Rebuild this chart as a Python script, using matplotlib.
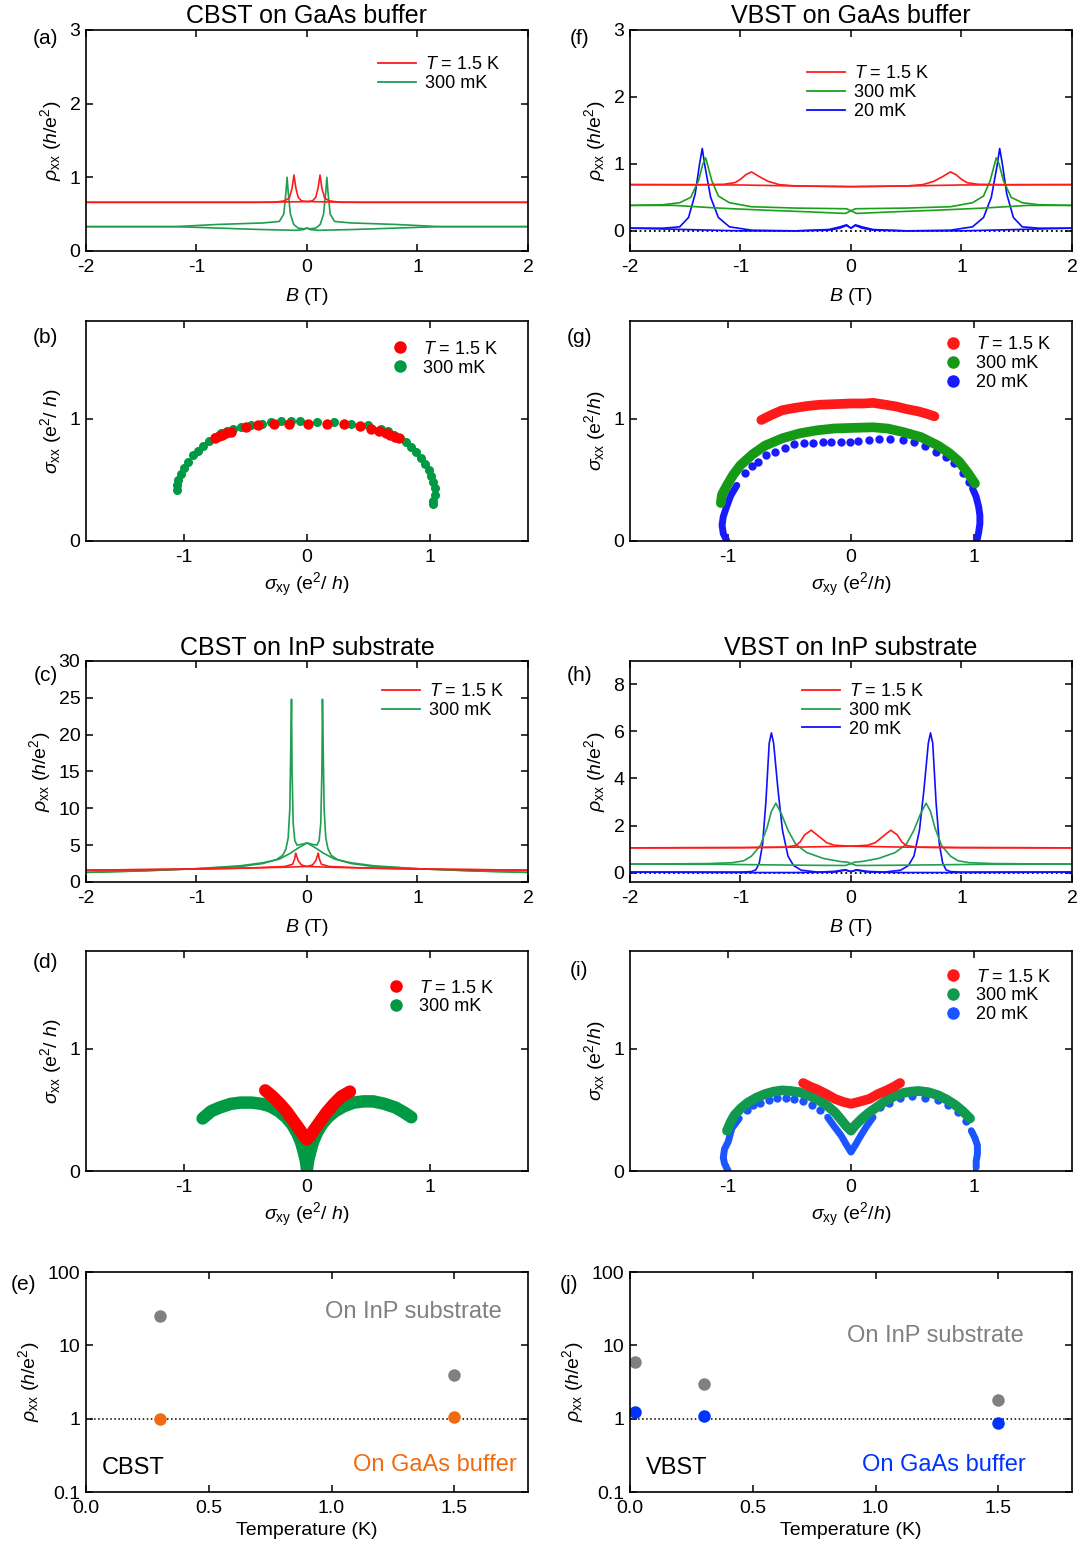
import matplotlib
matplotlib.use('Agg')
import matplotlib.pyplot as plt
from matplotlib.lines import Line2D

plt.rcParams['font.family'] = ['Liberation Sans', 'DejaVu Sans']
plt.rcParams['mathtext.fontset'] = 'custom'
plt.rcParams['mathtext.rm'] = 'Liberation Sans'
plt.rcParams['mathtext.it'] = 'Liberation Sans:italic'
plt.rcParams['axes.unicode_minus'] = False
plt.rcParams['axes.linewidth'] = 1.2

# ---------------- data ----------------
# rho_xx sweeps: only the up-sweep branch is listed, the down-sweep is the same curve at -B

# (a) CBST on GaAs buffer
a_red_B = [-2.0, -1.0, -0.5, -0.2, 0.0, 0.05, 0.08, 0.10, 0.118, 0.135, 0.16, 0.2, 0.3, 1.0, 2.0]
a_red_rho = [0.66, 0.66, 0.66, 0.665, 0.67, 0.68, 0.73, 0.85, 1.03, 0.85, 0.72, 0.68, 0.66, 0.66, 0.66]
a_grn_B = [-2.0, -1.2, -0.8, -0.4, -0.1, -0.03, 0.0, 0.03, 0.08, 0.12, 0.15, 0.17, 0.18, 0.19, 0.21,
           0.25, 0.4, 0.8, 1.2, 2.0]
a_grn_rho = [0.33, 0.33, 0.31, 0.29, 0.28, 0.29, 0.31, 0.30, 0.31, 0.36, 0.5, 0.8, 1.0, 0.8, 0.5,
             0.40, 0.38, 0.36, 0.33, 0.33]

# (c) CBST on InP substrate
c_red_B = [-2.0, -1.0, -0.5, -0.2, 0.0, 0.05, 0.08, 0.095, 0.103, 0.11, 0.13, 0.2, 0.5, 1.0, 2.0]
c_red_rho = [1.6, 1.75, 1.9, 2.0, 2.1, 2.3, 2.9, 3.6, 3.9, 3.2, 2.4, 2.1, 1.9, 1.75, 1.6]
c_grn_B = [-2.0, -1.5, -1.0, -0.6, -0.4, -0.25, -0.15, -0.08, 0.0, 0.05, 0.09, 0.11, 0.125, 0.135,
           0.14, 0.145, 0.155, 0.17, 0.19, 0.22, 0.28, 0.4, 0.6, 1.0, 1.5, 2.0]
c_grn_rho = [1.3, 1.5, 1.8, 2.2, 2.6, 3.1, 3.9, 4.6, 5.3, 5.1, 5.0, 5.6, 8.0, 15.0,
             24.8, 20.0, 10.0, 6.0, 4.5, 3.6, 3.0, 2.5, 2.1, 1.8, 1.5, 1.3]

# (f) VBST on GaAs buffer
f_red_B = [-2.0, -1.0, -0.5, 0.0, 0.5, 0.65, 0.75, 0.83, 0.9, 0.95, 1.0, 1.05, 1.15, 1.4, 2.0]
f_red_rho = [0.69, 0.685, 0.67, 0.66, 0.67, 0.69, 0.74, 0.81, 0.88, 0.84, 0.77, 0.72, 0.695, 0.69, 0.69]
f_grn_B = [-2.0, -1.6, -1.2, -0.8, -0.4, -0.05, 0.0, 0.04, 0.5, 0.9, 1.1, 1.2, 1.26, 1.3, 1.315,
           1.34, 1.38, 1.45, 1.55, 1.7, 2.0]
f_grn_rho = [0.38, 0.38, 0.34, 0.31, 0.285, 0.26, 0.30, 0.33, 0.34, 0.36, 0.42, 0.52, 0.75, 1.0, 1.09,
             1.0, 0.75, 0.5, 0.42, 0.39, 0.38]
f_blu_B = [-2.0, -1.5, -1.0, -0.5, -0.2, -0.1, -0.04, 0.0, 0.04, 0.1, 0.2, 0.5, 0.9, 1.1, 1.2, 1.27,
           1.32, 1.346, 1.37, 1.41, 1.47, 1.55, 1.7, 2.0]
f_blu_rho = [0.04, 0.02, 0.0, 0.0, 0.01, 0.04, 0.08, 0.04, 0.09, 0.06, 0.02, 0.0, 0.01, 0.06, 0.2, 0.5,
             0.95, 1.23, 1.0, 0.55, 0.2, 0.06, 0.04, 0.04]

# (h) VBST on InP substrate
h_red_B = [-2.0, -1.0, -0.5, 0.0, 0.15, 0.22, 0.28, 0.36, 0.42, 0.46, 0.5, 0.6, 1.0, 2.0]
h_red_rho = [1.05, 1.06, 1.08, 1.12, 1.16, 1.27, 1.5, 1.8, 1.6, 1.3, 1.15, 1.08, 1.06, 1.05]
h_grn_B = [-2.0, -1.2, -0.8, -0.4, -0.05, 0.0, 0.03, 0.1, 0.25, 0.4, 0.5, 0.57, 0.63, 0.68, 0.72,
           0.76, 0.82, 0.9, 0.97, 1.07, 1.3, 2.0]
h_grn_rho = [0.36, 0.35, 0.33, 0.31, 0.30, 0.38, 0.44, 0.47, 0.6, 0.85, 1.2, 1.8, 2.5, 2.95, 2.6,
             1.9, 1.15, 0.7, 0.5, 0.42, 0.38, 0.36]
h_blu_B = [-2.0, -1.0, -0.5, -0.15, -0.05, 0.0, 0.05, 0.15, 0.3, 0.45, 0.52, 0.57, 0.62, 0.66, 0.7,
           0.72, 0.74, 0.77, 0.8, 0.83, 0.86, 0.9, 1.0, 2.0]
h_blu_rho = [0.02, 0.0, 0.0, 0.02, 0.1, 0.04, 0.12, 0.05, 0.02, 0.1, 0.3, 0.7, 1.8, 3.5, 5.5,
             5.94, 5.5, 3.0, 1.2, 0.4, 0.12, 0.04, 0.02, 0.02]

# (b) sigma_xx vs sigma_xy, CBST on GaAs
b_red_x = [-0.75, -0.72, -0.69, -0.66, -0.62, -0.5, -0.40, -0.27, -0.15, 0.01, 0.16, 0.30, 0.43,
           0.52, 0.59, 0.64, 0.68, 0.72, 0.75]
b_red_y = [0.84, 0.855, 0.87, 0.88, 0.895, 0.935, 0.95, 0.955, 0.96, 0.955, 0.955, 0.955, 0.94,
           0.92, 0.90, 0.885, 0.87, 0.85, 0.84]
b_grn_x = [-1.06, -1.06, -1.05, -1.03, -1.0, -0.97, -0.93, -0.89, -0.85, -0.80, -0.75, -0.70, -0.65,
           -0.60, -0.54, -0.46, -0.37, -0.29, -0.21, -0.13, -0.06, 0.08, 0.22, 0.36, 0.50, 0.60,
           0.66, 0.71, 0.76, 0.81, 0.85, 0.89, 0.93, 0.96, 0.99, 1.01, 1.03, 1.04, 1.04, 1.03, 1.03]
b_grn_y = [0.42, 0.46, 0.50, 0.55, 0.60, 0.65, 0.70, 0.74, 0.78, 0.82, 0.85, 0.88, 0.90,
           0.92, 0.93, 0.95, 0.96, 0.97, 0.98, 0.98, 0.98, 0.97, 0.97, 0.96, 0.95, 0.92,
           0.90, 0.87, 0.84, 0.81, 0.77, 0.73, 0.68, 0.63, 0.58, 0.53, 0.48, 0.43, 0.38, 0.33, 0.30]

# (d) sigma_xx vs sigma_xy, CBST on InP
d_red_x = [-0.34, -0.28, -0.22, -0.16, -0.11, -0.06, -0.02, 0.0, 0.02, 0.06, 0.11, 0.16, 0.22, 0.28, 0.35]
d_red_y = [0.66, 0.61, 0.55, 0.48, 0.41, 0.34, 0.28, 0.26, 0.28, 0.34, 0.41, 0.48, 0.55, 0.61, 0.65]
d_grn_left_x = [-0.85, -0.78, -0.71, -0.62, -0.54, -0.45, -0.37, -0.30, -0.23, -0.17, -0.12, -0.08,
                -0.05, -0.03, -0.01, 0.0]
d_grn_left_y = [0.43, 0.49, 0.52, 0.55, 0.56, 0.56, 0.55, 0.53, 0.49, 0.44, 0.38, 0.31,
                0.24, 0.17, 0.09, 0.02]
d_grn_right_x = [0.0, 0.01, 0.03, 0.05, 0.08, 0.12, 0.17, 0.23, 0.30, 0.38, 0.46, 0.54, 0.63, 0.72,
                 0.79, 0.85]
d_grn_right_y = [0.02, 0.09, 0.17, 0.24, 0.31, 0.38, 0.44, 0.49, 0.53, 0.56, 0.57, 0.57, 0.55, 0.52,
                 0.48, 0.44]

# (g) sigma_xx vs sigma_xy, VBST on GaAs
g_red_x = [-0.73, -0.65, -0.56, -0.45, -0.35, -0.25, -0.12, 0.0, 0.1, 0.18, 0.28, 0.37, 0.45, 0.55, 0.62, 0.68]
g_red_y = [0.99, 1.03, 1.07, 1.09, 1.105, 1.115, 1.12, 1.125, 1.125, 1.13, 1.115, 1.10, 1.08, 1.06, 1.04, 1.02]
g_grn_x = [-1.06, -1.05, -1.01, -0.96, -0.90, -0.80, -0.70, -0.56, -0.42, -0.28, -0.14, 0.0, 0.18,
           0.30, 0.43, 0.57, 0.71, 0.80, 0.88, 0.95, 1.01]
g_grn_y = [0.31, 0.38, 0.455, 0.54, 0.62, 0.71, 0.78, 0.84, 0.88, 0.905, 0.92, 0.925, 0.93,
           0.92, 0.89, 0.85, 0.78, 0.72, 0.65, 0.56, 0.47]
g_blu_end1_x = [-1.01, -1.04, -1.05, -1.04, -1.02, -0.98, -0.93]
g_blu_end1_y = [0.0, 0.06, 0.13, 0.2, 0.26, 0.37, 0.455]
g_blu_dot_x = [-0.86, -0.81, -0.76, -0.69, -0.62, -0.54, -0.46, -0.38, -0.31, -0.23, -0.16, -0.08, -0.01,
               0.06, 0.15, 0.23, 0.32, 0.42, 0.51, 0.60, 0.69, 0.77, 0.84, 0.91, 0.96]
g_blu_dot_y = [0.56, 0.61, 0.65, 0.70, 0.73, 0.76, 0.79, 0.80, 0.80, 0.81, 0.81, 0.81, 0.81,
               0.815, 0.825, 0.835, 0.835, 0.83, 0.81, 0.78, 0.73, 0.69, 0.64, 0.56, 0.48]
g_blu_end2_x = [0.99, 1.02, 1.04, 1.05, 1.05, 1.04, 1.03]
g_blu_end2_y = [0.43, 0.36, 0.28, 0.21, 0.14, 0.07, 0.02]

# (i) sigma_xx vs sigma_xy, VBST on InP
i_red_x = [-0.39, -0.33, -0.28, -0.2, -0.13, -0.06, 0.0, 0.06, 0.15, 0.22, 0.29, 0.35, 0.40]
i_red_y = [0.72, 0.69, 0.67, 0.63, 0.59, 0.565, 0.55, 0.565, 0.59, 0.63, 0.66, 0.69, 0.72]
i_grn_x = [-1.01, -0.98, -0.95, -0.9, -0.84, -0.77, -0.70, -0.63, -0.56, -0.49, -0.42, -0.35, -0.28,
           -0.2, -0.13, -0.08, -0.04, 0.0, 0.04, 0.09, 0.15, 0.22, 0.29, 0.36, 0.43, 0.49, 0.55,
           0.63, 0.71, 0.78, 0.85, 0.91, 0.97]
i_grn_y = [0.33, 0.40, 0.455, 0.51, 0.56, 0.60, 0.63, 0.65, 0.66, 0.655, 0.645, 0.62, 0.59,
           0.54, 0.48, 0.42, 0.37, 0.33, 0.38, 0.43, 0.48, 0.53, 0.58, 0.615, 0.64, 0.65, 0.655,
           0.645, 0.62, 0.585, 0.54, 0.49, 0.43]
i_blu_end1_x = [-1.0, -1.03, -1.04, -1.03, -1.0, -0.97, -0.94, -0.91]
i_blu_end1_y = [0.0, 0.06, 0.11, 0.18, 0.24, 0.35, 0.39, 0.43]
i_blu_dot1_x = [-0.85, -0.80, -0.74, -0.67, -0.60, -0.53, -0.46, -0.39, -0.32, -0.25]
i_blu_dot1_y = [0.50, 0.54, 0.56, 0.585, 0.595, 0.60, 0.59, 0.57, 0.54, 0.50]
i_blu_mid_x = [-0.19, -0.14, -0.08, -0.04, 0.0, 0.04, 0.08, 0.13, 0.18]
i_blu_mid_y = [0.44, 0.37, 0.29, 0.22, 0.155, 0.22, 0.29, 0.37, 0.44]
i_blu_dot2_x = [0.24, 0.31, 0.40, 0.50, 0.60, 0.71, 0.79, 0.87, 0.94]
i_blu_dot2_y = [0.52, 0.56, 0.595, 0.61, 0.60, 0.58, 0.54, 0.48, 0.41]
i_blu_end2_x = [0.98, 1.01, 1.03, 1.03, 1.02, 1.02]
i_blu_end2_y = [0.33, 0.27, 0.21, 0.14, 0.08, 0.03]

# (e), (j) peak rho_xx vs temperature
e_T = [0.3, 1.5]
e_inp = [25.0, 4.0]
e_gaas = [1.0, 1.05]
j_T = [0.02, 0.3, 1.5]
j_inp = [6.0, 3.0, 1.8]
j_gaas = [1.25, 1.1, 0.88]

leg2 = [r'$T$ = 1.5 K', '300 mK']
leg3 = [r'$T$ = 1.5 K', '300 mK', '20 mK']

# ---------------- figure ----------------
fig = plt.figure(figsize=(10.83, 15.5), dpi=100)

L, R, W = 0.0794, 0.5817, 0.4081
rows = [(0.8381, 0.1426), (0.6510, 0.1419), (0.4310, 0.1426), (0.2445, 0.1419), (0.0374, 0.1419)]
FS = 14  # ticks and axis labels


def style(ax, xlim, ylim, xticks, yticks):
    ax.set_xlim(xlim)
    ax.set_ylim(ylim)
    ax.set_xticks(xticks)
    ax.set_yticks(yticks)
    ax.tick_params(direction='in', top=True, right=True, length=5, width=1.1,
                   labelsize=FS, pad=4)
    ax.tick_params(axis='x', pad=6)


def sweep(ax, B, rho, color):
    # up sweep and mirrored down sweep
    ax.plot(B, rho, color=color, lw=1.2)
    ax.plot([-b for b in B], rho, color=color, lw=1.2)


def band(ax, x, y, color, w):
    ax.plot(x, y, '-', color=color, lw=w, solid_capstyle='round', solid_joinstyle='round')


def dots(ax, x, y, color, ms):
    ax.plot(x, y, 'o', color=color, ms=ms, mec='none', ls='none')


def line_legend(ax, colors, labels, x, y):
    hs = [Line2D([], [], color=c, lw=1.3) for c in colors]
    ax.legend(hs, labels, loc='upper left', bbox_to_anchor=(x, y), frameon=False, fontsize=13,
              handlelength=2.1, handletextpad=0.5, labelspacing=0.1, borderpad=0, borderaxespad=0)


def dot_legend(ax, colors, labels, x, y):
    hs = [Line2D([], [], color=c, marker='o', ms=9, mec='none', ls='none') for c in colors]
    ax.legend(hs, labels, loc='upper left', bbox_to_anchor=(x, y), frameon=False, fontsize=13,
              handlelength=1.0, handletextpad=0.8, labelspacing=0.1, borderpad=0, borderaxespad=0)


rho_lab = r'$\rho_{\rm xx}$ ($h$/e$^2$)'

# (a)
ax = fig.add_axes([L, rows[0][0], W, rows[0][1]])
sweep(ax, a_grn_B, a_grn_rho, '#1f9e4f')
sweep(ax, a_red_B, a_red_rho, '#ff1a1a')
style(ax, (-2, 2), (0, 3), [-2, -1, 0, 1, 2], [0, 1, 2, 3])
ax.set_xlabel(r'$B$ (T)', fontsize=FS, labelpad=7)
ax.set_ylabel(rho_lab, fontsize=FS)
ax.set_title('CBST on GaAs buffer', fontsize=18, pad=5)
line_legend(ax, ['#ff1a1a', '#1f9e4f'], leg2, 0.66, 0.88)

# (b)
ax = fig.add_axes([L, rows[1][0], W, rows[1][1]])
dots(ax, b_grn_x, b_grn_y, '#009944', 6.5)
dots(ax, b_red_x, b_red_y, '#ff0000', 7.5)
style(ax, (-1.8, 1.8), (0, 1.8), [-1, 0, 1], [0, 1])
ax.set_xlabel(r'$\sigma_{\rm xy}$ (e$^2$/ $h$)', fontsize=FS, labelpad=3)
ax.set_ylabel(r'$\sigma_{\rm xx}$ (e$^2$/ $h$)', fontsize=FS)
dot_legend(ax, ['#ff0000', '#009944'], leg2, 0.69, 0.91)

# (c)
ax = fig.add_axes([L, rows[2][0], W, rows[2][1]])
sweep(ax, c_grn_B, c_grn_rho, '#1f9e4f')
sweep(ax, c_red_B, c_red_rho, '#ff1a1a')
style(ax, (-2, 2), (0, 30), [-2, -1, 0, 1, 2], [0, 5, 10, 15, 20, 25, 30])
ax.set_xlabel(r'$B$ (T)', fontsize=FS, labelpad=7)
ax.set_ylabel(rho_lab, fontsize=FS)
ax.set_title('CBST on InP substrate', fontsize=18, pad=4)
line_legend(ax, ['#ff1a1a', '#1f9e4f'], leg2, 0.67, 0.90)

# (d)
ax = fig.add_axes([L, rows[3][0], W, rows[3][1]])
band(ax, d_grn_left_x, d_grn_left_y, '#009944', 9)
band(ax, d_grn_right_x, d_grn_right_y, '#009944', 9)
band(ax, d_red_x, d_red_y, '#ff0000', 9)
style(ax, (-1.8, 1.8), (0, 1.8), [-1, 0, 1], [0, 1])
ax.set_xlabel(r'$\sigma_{\rm xy}$ (e$^2$/ $h$)', fontsize=FS, labelpad=3)
ax.set_ylabel(r'$\sigma_{\rm xx}$ (e$^2$/ $h$)', fontsize=FS)
dot_legend(ax, ['#ff0000', '#009944'], leg2, 0.68, 0.87)

# (e)
ax = fig.add_axes([L, rows[4][0], W, rows[4][1]])
ax.set_yscale('log')
ax.axhline(1, color='k', ls=':', lw=1.1)
ax.plot(e_T, e_inp, 'o', color='#808080', ms=9, mec='none')
ax.plot(e_T, e_gaas, 'o', color='#f26a0f', ms=9, mec='none')
style(ax, (0, 1.8), (0.1, 100), [0.0, 0.5, 1.0, 1.5], [0.1, 1, 10, 100])
ax.set_xticklabels(['0.0', '0.5', '1.0', '1.5'])
ax.set_yticklabels(['0.1', '1', '10', '100'])
ax.minorticks_off()
ax.set_xlabel('Temperature (K)', fontsize=FS, labelpad=3)
ax.set_ylabel(rho_lab, fontsize=FS)
ax.text(0.74, 0.82, 'On InP substrate', color='#808080', fontsize=17, ha='center', va='center',
        transform=ax.transAxes)
ax.text(0.79, 0.125, 'On GaAs buffer', color='#f26a0f', fontsize=17, ha='center', va='center',
        transform=ax.transAxes)
ax.text(0.035, 0.11, 'CBST', color='k', fontsize=17, ha='left', va='center', transform=ax.transAxes)

# (f)
ax = fig.add_axes([R, rows[0][0], W, rows[0][1]])
ax.axhline(0, color='k', ls=':', lw=1.3)
sweep(ax, f_blu_B, f_blu_rho, '#0a0aff')
sweep(ax, f_grn_B, f_grn_rho, '#1aa01a')
sweep(ax, f_red_B, f_red_rho, '#ff1a1a')
style(ax, (-2, 2), (-0.3, 3), [-2, -1, 0, 1, 2], [0, 1, 2, 3])
ax.set_xlabel(r'$B$ (T)', fontsize=FS, labelpad=7)
ax.set_ylabel(rho_lab, fontsize=FS)
ax.set_title('VBST on GaAs buffer', fontsize=18, pad=5)
line_legend(ax, ['#ff1a1a', '#1aa01a', '#0a0aff'], leg3, 0.40, 0.84)

# (g)
ax = fig.add_axes([R, rows[1][0], W, rows[1][1]])
band(ax, g_blu_end1_x, g_blu_end1_y, '#1a1aff', 5)
band(ax, g_blu_end2_x, g_blu_end2_y, '#1a1aff', 5)
dots(ax, g_blu_dot_x, g_blu_dot_y, '#1a1aff', 6)
band(ax, g_grn_x, g_grn_y, '#159a15', 7)
band(ax, g_red_x, g_red_y, '#ff1a1a', 7)
style(ax, (-1.8, 1.8), (0, 1.8), [-1, 0, 1], [0, 1])
ax.set_xlabel(r'$\sigma_{\rm xy}$ (e$^2$/$h$)', fontsize=FS, labelpad=3)
ax.set_ylabel(r'$\sigma_{\rm xx}$ (e$^2$/$h$)', fontsize=FS)
dot_legend(ax, ['#ff1a1a', '#159a15', '#1a1aff'], leg3, 0.71, 0.93)

# (h)
ax = fig.add_axes([R, rows[2][0], W, rows[2][1]])
ax.axhline(0, color='k', ls=':', lw=1.3)
sweep(ax, h_blu_B, h_blu_rho, '#1010ff')
sweep(ax, h_grn_B, h_grn_rho, '#22a050')
sweep(ax, h_red_B, h_red_rho, '#ff1a1a')
style(ax, (-2, 2), (-0.4, 9), [-2, -1, 0, 1, 2], [0, 2, 4, 6, 8])
ax.set_xlabel(r'$B$ (T)', fontsize=FS, labelpad=7)
ax.set_ylabel(rho_lab, fontsize=FS)
ax.set_title('VBST on InP substrate', fontsize=18, pad=4)
line_legend(ax, ['#ff1a1a', '#22a050', '#1010ff'], leg3, 0.39, 0.90)

# (i)
ax = fig.add_axes([R, rows[3][0], W, rows[3][1]])
band(ax, i_blu_end1_x, i_blu_end1_y, '#1a55ff', 5)
band(ax, i_blu_mid_x, i_blu_mid_y, '#1a55ff', 5)
band(ax, i_blu_end2_x, i_blu_end2_y, '#1a55ff', 5)
dots(ax, i_blu_dot1_x, i_blu_dot1_y, '#1a55ff', 6)
dots(ax, i_blu_dot2_x, i_blu_dot2_y, '#1a55ff', 6)
band(ax, i_grn_x, i_grn_y, '#119950', 7)
band(ax, i_red_x, i_red_y, '#ff1a1a', 7)
style(ax, (-1.8, 1.8), (0, 1.8), [-1, 0, 1], [0, 1])
ax.set_xlabel(r'$\sigma_{\rm xy}$ (e$^2$/$h$)', fontsize=FS, labelpad=3)
ax.set_ylabel(r'$\sigma_{\rm xx}$ (e$^2$/$h$)', fontsize=FS)
dot_legend(ax, ['#ff1a1a', '#119950', '#1a55ff'], leg3, 0.71, 0.92)

# (j)
ax = fig.add_axes([R, rows[4][0], W, rows[4][1]])
ax.set_yscale('log')
ax.axhline(1, color='k', ls=':', lw=1.1)
ax.plot(j_T, j_inp, 'o', color='#808080', ms=9, mec='none')
ax.plot(j_T, j_gaas, 'o', color='#0033ff', ms=9, mec='none')
style(ax, (0, 1.8), (0.1, 100), [0.0, 0.5, 1.0, 1.5], [0.1, 1, 10, 100])
ax.set_xticklabels(['0.0', '0.5', '1.0', '1.5'])
ax.set_yticklabels(['0.1', '1', '10', '100'])
ax.minorticks_off()
ax.set_xlabel('Temperature (K)', fontsize=FS, labelpad=3)
ax.set_ylabel(rho_lab, fontsize=FS)
ax.text(0.69, 0.71, 'On InP substrate', color='#808080', fontsize=17, ha='center', va='center',
        transform=ax.transAxes)
ax.text(0.71, 0.125, 'On GaAs buffer', color='#0033ff', fontsize=17, ha='center', va='center',
        transform=ax.transAxes)
ax.text(0.035, 0.11, 'VBST', color='k', fontsize=17, ha='left', va='center', transform=ax.transAxes)

# panel letters
for lab, x, y in [('(a)', 0.042, 0.975), ('(b)', 0.042, 0.782), ('(c)', 0.042, 0.564),
                  ('(d)', 0.042, 0.379), ('(e)', 0.022, 0.171),
                  ('(f)', 0.535, 0.975), ('(g)', 0.535, 0.782), ('(h)', 0.535, 0.564),
                  ('(i)', 0.535, 0.374), ('(j)', 0.525, 0.171)]:
    fig.text(x, y, lab, fontsize=15, ha='center', va='center')

fig.savefig('out.png', dpi=100)
